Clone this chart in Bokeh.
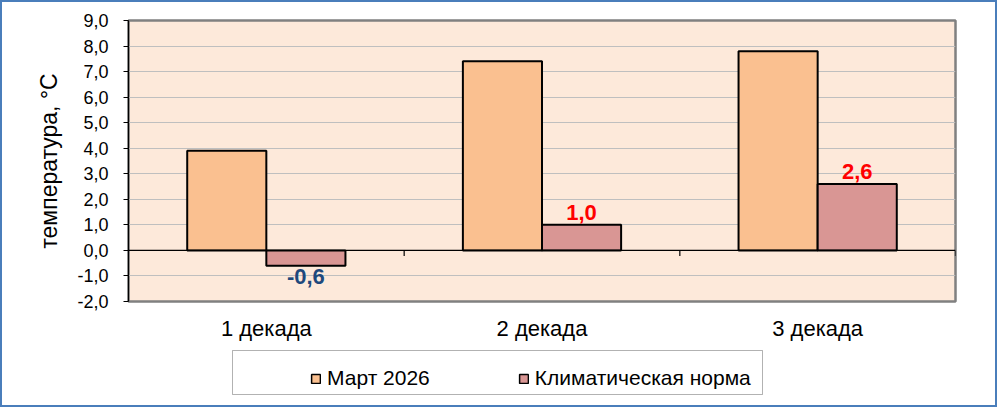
from bokeh.plotting import figure
from bokeh.layouts import column
from bokeh.models import (Range1d, FixedTicker, CustomJSTickFormatter, Span, Legend,
                          LegendItem, ColumnDataSource, BoxAnnotation)
from bokeh.core.properties import value
from bokeh.embed import file_html
from bokeh.resources import INLINE

# ---- data ----
categories = ["1 декада", "2 декада", "3 декада"]
march_2026 = [3.9, 7.4, 7.8]
clim_norm = [-0.6, 1.0, 2.6]
series_names = ["Март 2026", "Климатическая норма"]
y_ticks = [-2, -1, 0, 1, 2, 3, 4, 5, 6, 7, 8, 9]

FONT = "Liberation Sans"
C_MARCH = "#FAC090"
C_NORM = "#D99694"
W = 993
H1 = 347
H2 = 56

n = len(categories)
centers = [i + 0.5 for i in range(n)]
bw = 0.287

p = figure(width=W, height=H1, output_backend="svg", toolbar_location=None,
           x_range=Range1d(0, n), y_range=Range1d(y_ticks[0], y_ticks[-1]),
           min_border_left=126, min_border_right=40, min_border_top=18,
           min_border_bottom=48)
p.background_fill_color = "#FDE9DA"
p.border_fill_color = "white"
p.outline_line_color = "#808080"
p.outline_line_width = 2.5

src = ColumnDataSource(dict(
    xm=[c - bw / 2 for c in centers], xn=[c + bw / 2 for c in centers],
    march=march_2026, norm=clim_norm,
    lbl=[f"{v:.1f}".replace(".", ",") for v in clim_norm],
    col=["#1F497D" if v < 0 else "#FF0000" for v in clim_norm],
    base=["top" if v < 0 else "bottom" for v in clim_norm],
    off=[3 if v < 0 else -5 for v in clim_norm],
))

p.vbar(x="xm", top="march", bottom=0, width=bw, source=src,
       fill_color=C_MARCH, line_color="black", line_width=2)
p.vbar(x="xn", top="norm", bottom=0, width=bw, source=src,
       fill_color=C_NORM, line_color="black", line_width=2)

p.add_layout(Span(location=0, dimension="width", line_color="black", line_width=1.2))
p.segment(x0=list(range(1, n + 1)), x1=list(range(1, n + 1)), y0=0, y1=-0.22,
          line_color="black", line_width=1.2)

p.text(x="xn", y="norm", text="lbl", source=src, text_color="col",
       text_baseline="base", text_align="center", y_offset="off",
       text_font=value(FONT), text_font_size="22px", text_font_style="bold")

# grid
p.xgrid.grid_line_color = None
p.ygrid.grid_line_color = "#BFBFBF"
p.ygrid.grid_line_width = 1
p.ygrid.ticker = FixedTicker(ticks=y_ticks)

# y axis
ya = p.yaxis[0]
ya.ticker = FixedTicker(ticks=y_ticks)
ya.formatter = CustomJSTickFormatter(code="return tick.toFixed(1).replace('.', ',');")
ya.axis_line_color = "black"
ya.axis_line_width = 1.2
ya.major_tick_out = 5
ya.major_tick_in = 0
ya.minor_tick_line_color = None
ya.major_label_text_font = FONT
ya.major_label_text_font_size = "18px"
ya.major_label_text_color = "black"
ya.major_label_standoff = 15
ya.axis_label = "температура, °С"
ya.axis_label_text_font = FONT
ya.axis_label_text_font_size = "23px"
ya.axis_label_text_font_style = "normal"
ya.axis_label_text_color = "black"
ya.axis_label_standoff = 12

# x axis
xa = p.xaxis[0]
xa.ticker = FixedTicker(ticks=centers)
xa.major_label_overrides = {c: lab for c, lab in zip(centers, categories)}
xa.axis_line_color = None
xa.major_tick_line_color = None
xa.minor_tick_line_color = None
xa.major_label_text_font = FONT
xa.major_label_text_font_size = "22px"
xa.major_label_text_color = "black"
xa.major_label_standoff = 8

# ---- legend strip: frame aligned with the chart frame, ranges in page pixels ----
p2 = figure(width=W, height=H2, output_backend="svg", toolbar_location=None,
            x_range=Range1d(128, 955), y_range=Range1d(405, 349),
            min_border=0, x_axis_type=None, y_axis_type=None)
p2.outline_line_color = None
p2.grid.grid_line_color = None
p2.background_fill_color = "white"
p2.border_fill_color = "white"

p2.add_layout(BoxAnnotation(left=232, right=762, top=350, bottom=394,
                            fill_color="white", fill_alpha=1,
                            line_color="black", line_width=1))

# legend glyph carriers (hidden renderers, only their legend swatches are shown)
g1 = p2.vbar(x="xm", top="march", width=bw, source=src, visible=False,
             fill_color=C_MARCH, line_color="black", line_width=1.5)
g2 = p2.vbar(x="xn", top="norm", width=bw, source=src, visible=False,
             fill_color=C_NORM, line_color="black", line_width=1.5)

legend = Legend(items=[LegendItem(label=series_names[0], renderers=[g1]),
                       LegendItem(label=series_names[1], renderers=[g2])],
                location=(182, 15), orientation="horizontal",
                border_line_color=None, background_fill_alpha=0,
                padding=5, spacing=88, glyph_width=11, glyph_height=11,
                label_standoff=6, label_text_font=FONT,
                label_text_font_size="21px", label_text_color="black",
                margin=0)
p2.add_layout(legend, "center")

layout = column(p, p2, spacing=0, styles={"border": "2px solid #4A7EBB"})

open("out.html", "w").write(file_html(layout, INLINE))
